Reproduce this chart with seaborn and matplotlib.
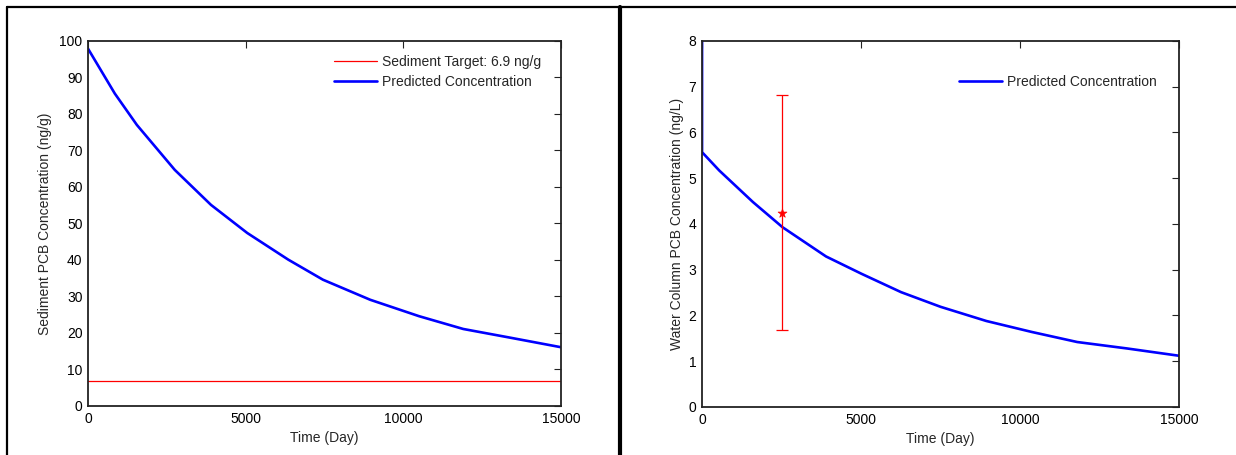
import matplotlib.pyplot as plt
import seaborn as sns
from matplotlib.lines import Line2D

# ── Data ──────────────────────────────────────────────────────────────────────
sed_days = [0, 850, 1550, 2750, 3900, 5050, 6350, 7450, 8950, 10500, 11900, 13400, 15000]
sed_conc = [97.9, 85.6, 77.0, 64.7, 55.1, 47.4, 40.1, 34.6, 29.1, 24.6, 21.1, 18.7, 16.1]
sed_target = 6.9

wat_days = [0, 0, 540, 1600, 2530, 3900, 5020, 6260, 7500, 8940, 10370, 11800, 13360, 15000]
wat_conc = [10.0, 5.57, 5.17, 4.48, 3.93, 3.29, 2.91, 2.51, 2.19, 1.88, 1.64, 1.42, 1.28, 1.12]

obs_day = 2500
obs_mean = 4.24
obs_low = 1.68
obs_high = 6.81

x_ticks = [0, 5000, 10000, 15000]
sed_yticks = list(range(0, 101, 10))
wat_yticks = list(range(0, 9))

BLUE = "#0000ff"
RED = "#ff0000"

sns.set_style("white")
plt.rcParams["font.family"] = ["Liberation Sans", "DejaVu Sans"]
plt.rcParams["font.size"] = 10

fig = plt.figure(figsize=(12.36, 4.55), dpi=100)
ax1 = fig.add_axes([0.0712, 0.1077, 0.3827, 0.8022])
ax2 = fig.add_axes([0.5680, 0.1055, 0.3859, 0.8044])


def style_axes(ax, yticks, ylim):
    ax.set_xlim(0, 15000)
    ax.set_ylim(*ylim)
    ax.set_xticks(x_ticks)
    ax.set_yticks(yticks)
    ax.tick_params(direction="in", length=5, width=0.8, top=True, right=True,
                   labelsize=10, colors="#222222", pad=4)
    ax.tick_params(labelcolor="black")
    for sp in ax.spines.values():
        sp.set_color("#222222")
        sp.set_linewidth(1.3)
    ax.set_xlabel("Time (Day)", fontsize=10, labelpad=4)


# ── Left: sediment ────────────────────────────────────────────────────────────
ax1.axhline(sed_target, color=RED, linewidth=0.9, label="Sediment Target: 6.9 ng/g")
sns.lineplot(x=sed_days, y=sed_conc, ax=ax1, color=BLUE, linewidth=1.9,
             estimator=None, sort=False, label="Predicted Concentration")
style_axes(ax1, sed_yticks, (0, 100))
ax1.set_ylabel("Sediment PCB Concentration (ng/g)", fontsize=10, labelpad=5)
ax1.legend(loc="upper right", frameon=False, fontsize=10, handlelength=3.1,
           handletextpad=0.4, labelspacing=0.45, bbox_to_anchor=(0.985, 0.996))

# ── Right: water column ───────────────────────────────────────────────────────
sns.lineplot(x=wat_days, y=wat_conc, ax=ax2, color=BLUE, linewidth=1.9,
             estimator=None, sort=False, label="Predicted Concentration")
ax2.errorbar([obs_day], [obs_mean],
             yerr=[[obs_mean - obs_low], [obs_high - obs_mean]],
             fmt="none", ecolor=RED, elinewidth=0.9, capsize=4, capthick=0.9)
sns.scatterplot(x=[obs_day], y=[obs_mean], ax=ax2, marker="*", color=RED,
                s=45, linewidth=0.5, edgecolor=RED, zorder=5)
style_axes(ax2, wat_yticks, (0, 8))
ax2.set_ylabel("Water Column PCB Concentration (ng/L)", fontsize=10, labelpad=3)
ax2.legend(loc="upper right", frameon=False, fontsize=10, handlelength=3.1,
           handletextpad=0.4, bbox_to_anchor=(0.98, 0.941))

# ── Figure frame lines ────────────────────────────────────────────────────────
W, H = 1236, 455
fig.add_artist(Line2D([7 / W, 7 / W], [0, 1 - 7 / H], color="black", linewidth=1.6))
fig.add_artist(Line2D([7 / W, 1], [1 - 7 / H, 1 - 7 / H], color="black", linewidth=1.6))
fig.add_artist(Line2D([620 / W, 620 / W], [0, 1 - 7 / H], color="black", linewidth=3.0))

fig.savefig("out.png", dpi=100)
